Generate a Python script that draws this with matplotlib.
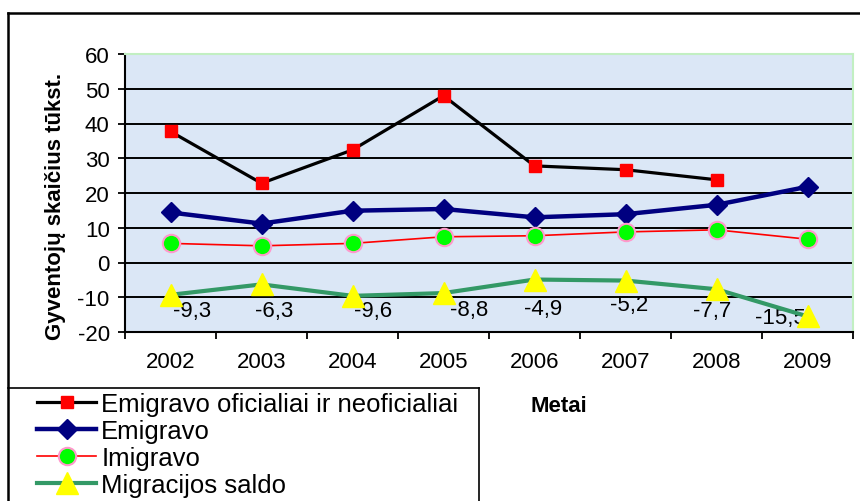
import numpy as np
import matplotlib
matplotlib.use("Agg")
import matplotlib.pyplot as plt
from matplotlib.lines import Line2D

plt.rcParams['font.family'] = ['Liberation Sans', 'DejaVu Sans']

# ---- data ----
years = ['2002', '2003', '2004', '2005', '2006', '2007', '2008', '2009']
emig_total = [37.7, 22.8, 32.4, 48.0, 27.8, 26.7, 23.8, np.nan]
emig = [14.4, 11.2, 14.9, 15.4, 13.0, 13.9, 16.6, 21.8]
imig = [5.5, 4.8, 5.5, 7.4, 7.7, 8.8, 9.4, 6.7]
saldo = [-9.3, -6.3, -9.6, -8.8, -4.9, -5.2, -7.7, -15.5]
yticks = [-20, -10, 0, 10, 20, 30, 40, 50, 60]
series_names = ['Emigravo oficialiai ir neoficialiai', 'Emigravo', 'Imigravo', 'Migracijos saldo']
ylabel = 'Gyventojų skaičius tūkst.'
xlabel = 'Metai'

# label offsets (pixels) for saldo data labels
label_offsets = [(22, -16), (13, -26), (21, -15), (26, -16), (9, -29), (4, -24), (-4, -21), (-27, -1)]

W, H, DPI = 860, 502, 100
fig = plt.figure(figsize=(W / DPI, H / DPI), dpi=DPI)
fig.patch.set_facecolor('white')

ax = fig.add_axes([125 / W, 1 - 333 / H, (853 - 125) / W, (333 - 55) / H])
ax.set_facecolor('#dbe7f6')

x = np.arange(len(years))

l1, = ax.plot(x, emig_total, color='black', lw=2.3, marker='s', ms=9,
              mfc='#ff0000', mec='#ff0000', zorder=5)
l2, = ax.plot(x, emig, color='#000080', lw=3.2, marker='D', ms=10.5,
              mfc='#000080', mec='#000080', zorder=5)
l3, = ax.plot(x, imig, color='#ff0000', lw=1.2, marker='o', ms=12.5,
              mfc='#00ff00', mec='#ff99cc', mew=1.5, zorder=5)
l4, = ax.plot(x, saldo, color='#339966', lw=3.0, marker='^', ms=16,
              mfc='#ffff00', mec='#ffff00', zorder=5)

for xi, v, off in zip(x, saldo, label_offsets):
    ax.annotate(('%.1f' % v).replace('.', ','), (xi, v), xytext=off,
                textcoords='offset pixels', ha='center', va='center',
                fontsize=16, color='black', zorder=4)

ax.set_xlim(-0.5, len(years) - 0.5)
ax.set_ylim(yticks[0], yticks[-1])
ax.set_yticks(yticks)
ax.set_yticklabels([str(t) for t in yticks])
ax.set_xticks(x)
ax.set_xticklabels(years)
ax.set_xticks(np.arange(-0.5, len(years)), minor=True)
ax.tick_params(axis='x', which='major', length=0, pad=14, labelsize=16)
ax.tick_params(axis='x', which='minor', length=5, width=1.3, direction='out', color='black')
ax.tick_params(axis='y', which='major', length=5, width=1.3, direction='out', pad=6, labelsize=16)

for t in yticks[1:-1]:
    ax.axhline(t, color='black', lw=1.4, zorder=1)

for s in ['left', 'bottom']:
    ax.spines[s].set_color('black')
    ax.spines[s].set_linewidth(1.5)
for s in ['top', 'right']:
    ax.spines[s].set_color('#c2efc2')
    ax.spines[s].set_linewidth(1.5)

# axis titles
fig.text(56 / W, 1 - 206 / H, ylabel, rotation=90, ha='center', va='center',
         fontsize=16, fontweight='bold')
fig.text(559 / W, 1 - 407 / H, xlabel, ha='center', va='center',
         fontsize=16, fontweight='bold')

# outer chart frame
fig.add_artist(Line2D([8 / W, 1.0], [1 - 14 / H, 1 - 14 / H], transform=fig.transFigure,
                      color='black', lw=1.8))
fig.add_artist(Line2D([8 / W, 8 / W], [1 - 14 / H, 0.0], transform=fig.transFigure,
                      color='black', lw=1.8))
# legend frame
fig.add_artist(Line2D([8 / W, 479 / W], [1 - 389 / H, 1 - 389 / H], transform=fig.transFigure,
                      color='black', lw=1.2))
fig.add_artist(Line2D([479 / W, 479 / W], [1 - 389 / H, 0.0], transform=fig.transFigure,
                      color='black', lw=1.2))

leg = fig.legend([l1, l2, l3, l4], series_names, loc='upper left',
                 bbox_to_anchor=(37 / W, 1 - 393 / H), frameon=False,
                 borderpad=0, borderaxespad=0, handlelength=2.3,
                 handletextpad=0.2, labelspacing=0.12, fontsize=18.5)

fig.savefig('out.png', dpi=DPI)
